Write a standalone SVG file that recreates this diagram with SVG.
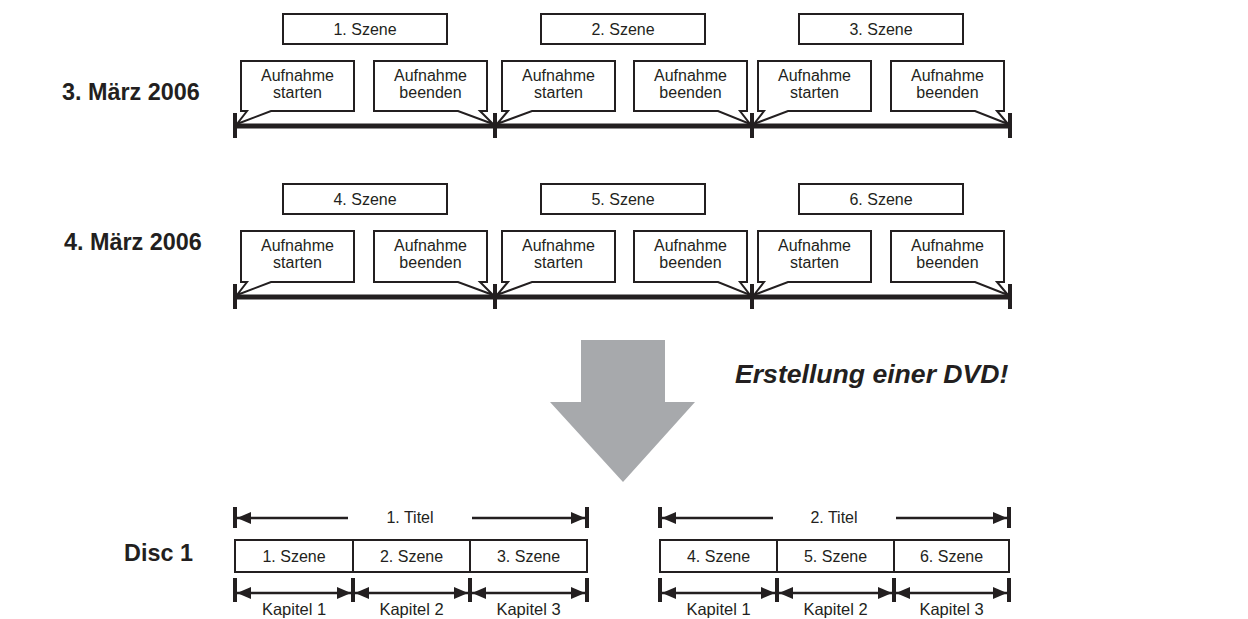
<svg xmlns="http://www.w3.org/2000/svg" width="1248" height="619" viewBox="0 0 1248 619">
<defs>
<style>
.box{fill:#fff;stroke:#231f20;stroke-width:2}
.t{font-family:"Liberation Sans",Arial,sans-serif;font-size:16px;fill:#231f20;text-anchor:middle}
.k{font-size:16.5px}
.lbl{font-family:"Liberation Sans",Arial,sans-serif;font-size:23.4px;font-weight:bold;fill:#231f20}
.tl{stroke:#231f20;stroke-width:5;fill:none}
.tick{stroke:#231f20;stroke-width:4;fill:none}
.arr{stroke:#231f20;stroke-width:2.4;fill:none;marker-end:url(#ah);marker-start:url(#ah)}
.one{stroke:#231f20;stroke-width:2.4;fill:none;marker-end:url(#ah)}
</style>
<marker id="ah" markerUnits="userSpaceOnUse" markerWidth="14" markerHeight="12" refX="14" refY="6" orient="auto-start-reverse" viewBox="0 0 14 12">
<path d="M0,0 L14,6 L0,12 z" fill="#231f20"/>
</marker>
</defs>
<rect width="1248" height="619" fill="#fff"/>

<text class="lbl" x="62" y="100">3. März 2006</text>
<text class="lbl" x="64" y="250">4. März 2006</text>
<text class="lbl" x="124" y="561">Disc 1</text>

<g id="connectors">
<line class="tl" x1="235" y1="126" x2="1010" y2="126"/>
<line class="tick" x1="235" y1="113" x2="235" y2="138"/>
<line class="tick" x1="495" y1="113" x2="495" y2="138"/>
<line class="tick" x1="752" y1="113" x2="752" y2="138"/>
<line class="tick" x1="1010" y1="113" x2="1010" y2="138"/>
<line class="tl" x1="235" y1="297" x2="1010" y2="297"/>
<line class="tick" x1="235" y1="284" x2="235" y2="309"/>
<line class="tick" x1="495" y1="284" x2="495" y2="309"/>
<line class="tick" x1="752" y1="284" x2="752" y2="309"/>
<line class="tick" x1="1010" y1="284" x2="1010" y2="309"/>

<line class="tick" x1="235" y1="507" x2="235" y2="528"/>
<line class="tick" x1="587" y1="507" x2="587" y2="528"/>
<line class="one" x1="348" y1="518" x2="237" y2="518"/>
<line class="one" x1="472" y1="518" x2="585" y2="518"/>
<line class="tick" x1="660" y1="507" x2="660" y2="528"/>
<line class="tick" x1="1009" y1="507" x2="1009" y2="528"/>
<line class="one" x1="773" y1="518" x2="662" y2="518"/>
<line class="one" x1="896" y1="518" x2="1007" y2="518"/>

<line class="tick" x1="235" y1="578" x2="235" y2="602"/>
<line class="tick" x1="353" y1="578" x2="353" y2="602"/>
<line class="tick" x1="470" y1="578" x2="470" y2="602"/>
<line class="tick" x1="587" y1="578" x2="587" y2="602"/>
<line class="arr" x1="237" y1="593" x2="351" y2="593"/>
<line class="arr" x1="355" y1="593" x2="468" y2="593"/>
<line class="arr" x1="472" y1="593" x2="585" y2="593"/>
<line class="tick" x1="660" y1="578" x2="660" y2="602"/>
<line class="tick" x1="777" y1="578" x2="777" y2="602"/>
<line class="tick" x1="894" y1="578" x2="894" y2="602"/>
<line class="tick" x1="1009" y1="578" x2="1009" y2="602"/>
<line class="arr" x1="662" y1="593" x2="775" y2="593"/>
<line class="arr" x1="779" y1="593" x2="892" y2="593"/>
<line class="arr" x1="896" y1="593" x2="1007" y2="593"/>
</g>

<g id="scene1"><rect class="box" x="283" y="14" width="164" height="30"/><text class="t" x="365" y="35">1. Szene</text></g>
<g id="scene2"><rect class="box" x="541" y="14" width="164" height="30"/><text class="t" x="623" y="35">2. Szene</text></g>
<g id="scene3"><rect class="box" x="799" y="14" width="164" height="30"/><text class="t" x="881" y="35">3. Szene</text></g>
<g id="scene4"><rect class="box" x="283" y="184" width="164" height="30"/><text class="t" x="365" y="205">4. Szene</text></g>
<g id="scene5"><rect class="box" x="541" y="184" width="164" height="30"/><text class="t" x="623" y="205">5. Szene</text></g>
<g id="scene6"><rect class="box" x="799" y="184" width="164" height="30"/><text class="t" x="881" y="205">6. Szene</text></g>

<g id="start1"><path class="box" d="M241,61 H354 V111 H271 L237,124 L247,111 H241 Z"/><text class="t" x="297.5" y="81">Aufnahme</text><text class="t" x="297.5" y="98">starten</text></g>
<g id="end1"><path class="box" d="M374,61 H487 V111 H480 L493,124 L458,111 H374 Z"/><text class="t" x="430.5" y="81">Aufnahme</text><text class="t" x="430.5" y="98">beenden</text></g>
<g id="start2"><path class="box" d="M502,61 H615 V111 H532 L497,124 L508,111 H502 Z"/><text class="t" x="558.5" y="81">Aufnahme</text><text class="t" x="558.5" y="98">starten</text></g>
<g id="end2"><path class="box" d="M634,61 H747 V111 H740 L750,124 L718,111 H634 Z"/><text class="t" x="690.5" y="81">Aufnahme</text><text class="t" x="690.5" y="98">beenden</text></g>
<g id="start3"><path class="box" d="M758,61 H871 V111 H788 L754,124 L764,111 H758 Z"/><text class="t" x="814.5" y="81">Aufnahme</text><text class="t" x="814.5" y="98">starten</text></g>
<g id="end3"><path class="box" d="M891,61 H1004 V111 H997 L1008,124 L975,111 H891 Z"/><text class="t" x="947.5" y="81">Aufnahme</text><text class="t" x="947.5" y="98">beenden</text></g>

<g id="start4"><path class="box" d="M241,231 H354 V282 H271 L237,295 L247,282 H241 Z"/><text class="t" x="297.5" y="251">Aufnahme</text><text class="t" x="297.5" y="268">starten</text></g>
<g id="end4"><path class="box" d="M374,231 H487 V282 H480 L493,295 L458,282 H374 Z"/><text class="t" x="430.5" y="251">Aufnahme</text><text class="t" x="430.5" y="268">beenden</text></g>
<g id="start5"><path class="box" d="M502,231 H615 V282 H532 L497,295 L508,282 H502 Z"/><text class="t" x="558.5" y="251">Aufnahme</text><text class="t" x="558.5" y="268">starten</text></g>
<g id="end5"><path class="box" d="M634,231 H747 V282 H740 L750,295 L718,282 H634 Z"/><text class="t" x="690.5" y="251">Aufnahme</text><text class="t" x="690.5" y="268">beenden</text></g>
<g id="start6"><path class="box" d="M758,231 H871 V282 H788 L754,295 L764,282 H758 Z"/><text class="t" x="814.5" y="251">Aufnahme</text><text class="t" x="814.5" y="268">starten</text></g>
<g id="end6"><path class="box" d="M891,231 H1004 V282 H997 L1008,295 L975,282 H891 Z"/><text class="t" x="947.5" y="251">Aufnahme</text><text class="t" x="947.5" y="268">beenden</text></g>

<g id="arrow">
<path d="M581,340 H665 V402 H695 L623,482 L550,402 H581 Z" fill="#a7a9ac"/>
</g>
<text x="735" y="383" font-family="'Liberation Sans',Arial,sans-serif" font-size="26.6" font-weight="bold" font-style="italic" fill="#231f20">Erstellung einer DVD!</text>

<g id="title1"><text class="t" x="410" y="523">1. Titel</text></g>
<g id="title2"><text class="t" x="834" y="523">2. Titel</text></g>

<g id="disc1">
<rect class="box" x="235" y="540" width="118" height="32"/><text class="t" x="294" y="562">1. Szene</text>
<rect class="box" x="353" y="540" width="117" height="32"/><text class="t" x="411.5" y="562">2. Szene</text>
<rect class="box" x="470" y="540" width="117" height="32"/><text class="t" x="528.5" y="562">3. Szene</text>
<rect class="box" x="660" y="540" width="117" height="32"/><text class="t" x="718.5" y="562">4. Szene</text>
<rect class="box" x="777" y="540" width="117" height="32"/><text class="t" x="835.5" y="562">5. Szene</text>
<rect class="box" x="894" y="540" width="115" height="32"/><text class="t" x="951.5" y="562">6. Szene</text>
</g>
<g id="kapitel">
<text class="t k" x="294" y="615">Kapitel 1</text>
<text class="t k" x="411.5" y="615">Kapitel 2</text>
<text class="t k" x="528.5" y="615">Kapitel 3</text>
<text class="t k" x="718.5" y="615">Kapitel 1</text>
<text class="t k" x="835.5" y="615">Kapitel 2</text>
<text class="t k" x="951.5" y="615">Kapitel 3</text>
</g>
</svg>
